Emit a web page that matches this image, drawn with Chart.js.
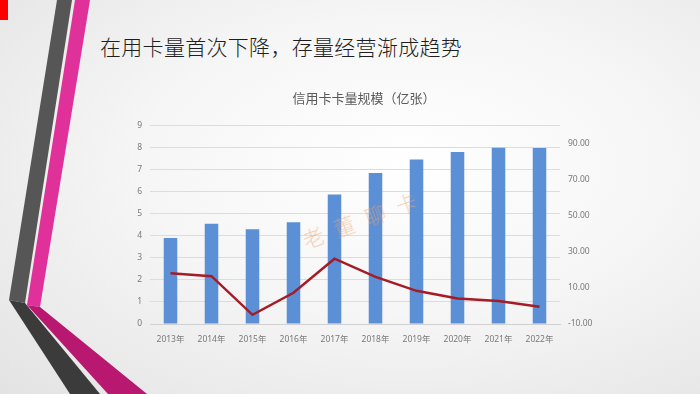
<!DOCTYPE html>
<html>
<head>
<meta charset="utf-8">
<script src="https://cdn.jsdelivr.net/npm/chart.js@4.4.0/dist/chart.umd.min.js"></script>
<style>
  html, body { margin: 0; padding: 0; }
  body {
    width: 700px; height: 394px; overflow: hidden; position: relative;
    background: radial-gradient(ellipse at 58% 42%, #ffffff 0%, #f6f6f6 45%, #e3e3e3 100%);
    font-family: "Noto Sans CJK SC", sans-serif;
  }
  #deco { position: absolute; left: 0; top: 0; }
  #title {
    position: absolute; left: 100px; top: 31px;
    font-size: 21px; color: #1e1e1e; letter-spacing: 0.3px;
    font-family: "Noto Sans CJK SC", sans-serif; font-weight: 300;
  }
  #mark {
    position: absolute; left: 303px; top: 225px;
    font-size: 21px; color: #f2a66e; opacity: 0.55; letter-spacing: 12px;
    transform: rotate(-20deg); transform-origin: left center;
    font-family: "Noto Sans CJK SC", sans-serif; font-weight: 300;
  }
  #wrap { position: absolute; left: 0; top: 0; width: 700px; height: 394px; }
</style>
</head>
<body>
<svg id="deco" width="700" height="394">
  <rect x="0" y="0" width="8" height="20" fill="#ff0000"/>
  <polygon points="57,0 72,0 25,303 9,300" fill="#565656"/>
  <polygon points="9,300 25,303 100,394 70,394" fill="#3b3b3b"/>
  <polygon points="75,0 90,0 40,307 27,305" fill="#e0309a"/>
  <polygon points="27,305 40,307 147,394 108,394" fill="#b8186f"/>
</svg>
<div id="title">在用卡量首次下降，存量经营渐成趋势</div>
<div id="wrap"><canvas id="myChart" width="700" height="394"></canvas></div>
<div id="mark">老董聊卡</div>
<script>
const years = ["2013年", "2014年", "2015年", "2016年", "2017年", "2018年", "2019年", "2020年", "2021年", "2022年"];
const cards = [3.9, 4.55, 4.3, 4.62, 5.88, 6.85, 7.46, 7.8, 8.0, 7.98];
const growth = [18.1, 16.5, -4.9, 7.3, 26.2, 16.1, 8.4, 4.1, 2.7, -0.4];
const leftTicks = [0, 1, 2, 3, 4, 5, 6, 7, 8, 9];
const rightTicks = [-10, 10, 30, 50, 70, 90];

const tickFont = { family: "'Noto Sans', 'Noto Sans CJK SC', sans-serif", size: 8.5 };

const data = {
  labels: years,
  datasets: [
    {
      type: "line",
      label: "增长率",
      data: growth,
      yAxisID: "y1",
      borderColor: "#a51c26",
      backgroundColor: "#a51c26",
      borderWidth: 2.5,
      pointRadius: 0,
      tension: 0,
      order: 0,
    },
    {
      type: "bar",
      label: "卡量",
      data: cards,
      yAxisID: "y",
      backgroundColor: "#5b8fd6",
      categoryPercentage: 1,
      barPercentage: 0.33,
      order: 1,
    },
  ],
};

const config = {
  data: data,
  options: {
    responsive: false,
    animation: false,
    layout: { padding: { left: 124, right: 96, top: 88, bottom: 50 } },
    plugins: {
      legend: { display: false },
      tooltip: { enabled: false },
      title: {
        display: true,
        text: "信用卡卡量规模（亿张）",
        color: "#5a5a5a",
        font: { family: "'Noto Sans CJK SC', sans-serif", size: 13, weight: "normal" },
        padding: { top: 2, bottom: 20 },
      },
    },
    scales: {
      x: {
        grid: { display: false },
        border: { display: true, color: "#d0d0d0" },
        ticks: { color: "#7a7a7a", font: tickFont, padding: 2, maxRotation: 0 },
        afterFit: (s) => { s.height = 20; },
      },
      y: {
        position: "left",
        min: 0,
        max: 9,
        afterBuildTicks: (s) => { s.ticks = leftTicks.map((v) => ({ value: v })); },
        grid: { color: "#dcdcdc", drawTicks: false },
        border: { display: false },
        ticks: { color: "#7a7a7a", font: tickFont, padding: 8 },
        afterFit: (s) => { s.width = 26; },
      },
      y1: {
        position: "right",
        min: -10,
        max: 100,
        afterBuildTicks: (s) => { s.ticks = rightTicks.map((v) => ({ value: v })); },
        grid: { display: false, drawTicks: false },
        border: { display: false },
        ticks: {
          color: "#7a7a7a",
          font: tickFont,
          padding: 8,
          callback: (v) => Number(v).toFixed(2),
        },
        afterFit: (s) => { s.width = 44; },
      },
    },
  },
};

new Chart(document.getElementById("myChart"), config);
</script>
</body>
</html>
